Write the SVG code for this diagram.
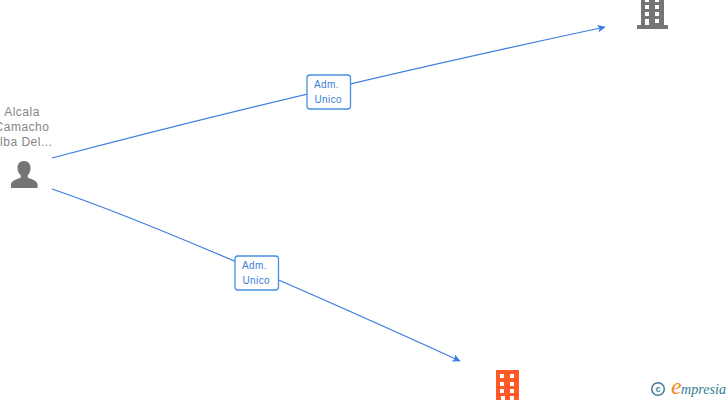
<svg xmlns="http://www.w3.org/2000/svg" width="728" height="400" viewBox="0 0 728 400">
<style>
.edge{fill:none;stroke:#3b7de0;stroke-width:1.2}
.box{fill:#fff;stroke:#4a90e2;stroke-width:1.3}
.lbl{font:10px "Liberation Sans",sans-serif;fill:#3b7dd8;letter-spacing:.4px}
.name{font:12px "Liberation Sans",sans-serif;fill:#858585;text-anchor:middle;letter-spacing:.5px}
.gray{fill:#757575}
.org{fill:#ff5a26}
.w{fill:#fff}
</style>
<defs>
<marker id="arr" markerWidth="10" markerHeight="10" refX="7.5" refY="4" orient="auto" markerUnits="userSpaceOnUse"><path d="M0 0L8 4L0 8L2 4Z" fill="#3b7de0"/></marker>
</defs>
<g id="connectors">
<path class="edge" d="M52 158Q310 90 605 27" marker-end="url(#arr)"/>
<path class="edge" d="M52 189Q170 229 460 361" marker-end="url(#arr)"/>
</g>
<g id="person">
<text class="name" x="22" y="116">Alcala</text>
<text class="name" x="22" y="131">Camacho</text>
<text class="name" x="22" y="146">Alba Del...</text>
<path class="gray" d="M24 161c4.500 0 6.500 3 6.500 7 0 3-1 5.500-2.800 7.500v2c2 1 9 2.500 9.800 6.500l0 4H11l0-4c.8-4 7.800-5.500 9.800-6.500v-2C19 173.500 17.500 171 17.500 168c0-4 2-7 6.500-7z"/>
</g>
<g id="company-top">
<path class="gray" d="M641 0H664V25H668V29H637V25H641Z"/>
<path class="w" d="M645 0h4v2h-4zM655 0h4v2h-4zM645 5h4v4h-4zM655 5h4v4h-4zM645 12h4v4h-4zM655 12h4v4h-4zM645 19h4v6h-4zM655 19h4v4h-4z"/>
</g>
<g id="company-bottom">
<rect class="org" x="496" y="370" width="23" height="30"/>
<path class="w" d="M500 374h4v4h-4zM510 374h4v4h-4zM500 382h4v4h-4zM510 382h4v4h-4zM500 389h4v4h-4zM510 389h4v4h-4zM501 396h4v4h-4zM510 396h4v4h-4z"/>
</g>
<g id="label-top">
<rect class="box" x="307" y="75" width="43.500" height="34" rx="3"/>
<text class="lbl" x="314" y="88">Adm.</text>
<text class="lbl" x="314.500" y="103">Unico</text>
</g>
<g id="label-bottom">
<rect class="box" x="235" y="256" width="43.500" height="34" rx="3"/>
<text class="lbl" x="242" y="269">Adm.</text>
<text class="lbl" x="242.500" y="284">Unico</text>
</g>
<g id="logo">
<circle cx="658" cy="389" r="6.300" fill="none" stroke="#3f7f98" stroke-width="1.500"/>
<text x="658" y="392" font-family="'Liberation Sans',sans-serif" font-size="9" font-weight="bold" fill="#3f7f98" text-anchor="middle">c</text>
<text x="671" y="394" font-family="'Liberation Serif',serif" font-size="24" font-style="italic" fill="#f08a1d">e</text>
<text x="681" y="394" font-family="'Liberation Serif',serif" font-size="14" font-style="italic" fill="#2f7d95" textLength="45">mpresia</text>
</g>
</svg>
